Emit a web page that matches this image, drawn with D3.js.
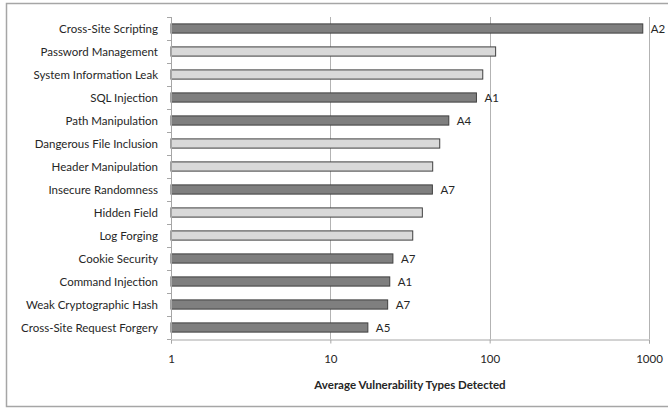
<!DOCTYPE html>
<html>
<head>
<meta charset="utf-8">
<script src="https://cdn.jsdelivr.net/npm/d3@7"></script>
<style>
  html, body { margin: 0; padding: 0; background: #fff; }
  svg { display: block; }
  text { font-family: Lato, "Open Sans", sans-serif; fill: #262626; }
</style>
</head>
<body>
<svg id="chart" width="668" height="408"></svg>
<script>
// Vulnerability types, top to bottom
const categories = [
  "Cross-Site Scripting", "Password Management", "System Information Leak",
  "SQL Injection", "Path Manipulation", "Dangerous File Inclusion",
  "Header Manipulation", "Insecure Randomness", "Hidden Field",
  "Log Forging", "Cookie Security", "Command Injection",
  "Weak Cryptographic Hash", "Cross-Site Request  Forgery"
];
// Average number detected per type
const values = [914, 109, 90.5, 82.6, 55.4, 48.6, 43.9, 43.7, 37.8, 32.9, 24.7, 23.6, 22.9, 17.2];
// OWASP category tag (empty = not in the OWASP list)
const owasp = ["A2", "", "", "A1", "A4", "", "", "A7", "", "", "A7", "A1", "A7", "A5"];
const xTicks = [1, 10, 100, 1000];
const xTitle = "Average Vulnerability Types Detected";

const svg = d3.select("#chart");
const plot = { left: 171, right: 649, top: 17, bottom: 339 };

// outer frame
svg.append("rect")
  .attr("x", 6.5).attr("y", 3.5).attr("width", 680).attr("height", 403)
  .attr("fill", "none").attr("stroke", "#a6a6a6").attr("stroke-width", 1.5);

const x = d3.scaleLog().domain([1, 1000]).range([plot.left, plot.right]);
const y = d3.scaleBand().domain(categories).range([plot.top, plot.bottom]).paddingInner(0.6).paddingOuter(0.3);
const yEdges = d3.range(categories.length + 1).map(i => plot.top + i * (plot.bottom - plot.top) / categories.length);

// vertical gridlines
svg.append("g").selectAll("line").data(xTicks.slice(1)).join("line")
  .attr("x1", d => Math.round(x(d)) + 0.5).attr("x2", d => Math.round(x(d)) + 0.5)
  .attr("y1", plot.top).attr("y2", plot.bottom)
  .attr("stroke", "#b3b3b3").attr("stroke-width", 1);

// bars
svg.append("g").selectAll("rect").data(categories).join("rect")
  .attr("x", plot.left)
  .attr("y", d => y(d))
  .attr("width", (d, i) => x(values[i]) - plot.left)
  .attr("height", y.bandwidth())
  .attr("fill", (d, i) => owasp[i] ? "#7f7f7f" : "#d9d9d9")
  .attr("stroke", "#404040").attr("stroke-width", 1);

// OWASP tags at bar ends
svg.append("g").selectAll("text").data(categories.filter((d, i) => owasp[i])).join("text")
  .attr("x", d => x(values[categories.indexOf(d)]) + 8)
  .attr("y", d => y(d) + y.bandwidth() / 2)
  .attr("dy", "0.35em")
  .attr("font-size", 11.5)
  .text(d => owasp[categories.indexOf(d)]);

// left axis
const gy = svg.append("g");
gy.append("line").attr("x1", plot.left + 0.5).attr("x2", plot.left + 0.5)
  .attr("y1", plot.top).attr("y2", plot.bottom).attr("stroke", "#a6a6a6");
gy.selectAll("line.tk").data(yEdges).join("line").attr("class", "tk")
  .attr("x1", plot.left - 4).attr("x2", plot.left)
  .attr("y1", d => Math.round(d) + 0.5).attr("y2", d => Math.round(d) + 0.5)
  .attr("stroke", "#a6a6a6");
gy.selectAll("text").data(categories).join("text")
  .attr("x", plot.left - 13)
  .attr("y", d => y(d) + y.bandwidth() / 2)
  .attr("dy", "0.35em")
  .attr("text-anchor", "end")
  .attr("font-size", 11.5)
  .text(d => d);

// bottom axis
const xAxis = d3.axisBottom(x).tickValues(xTicks).tickFormat(d3.format("d")).tickSize(4).tickPadding(11);
const gx = svg.append("g").attr("transform", `translate(0,${plot.bottom + 0.5})`).call(xAxis);
gx.select(".domain").attr("stroke", "#a6a6a6");
gx.selectAll(".tick line").attr("stroke", "#a6a6a6");
gx.selectAll(".tick text").attr("font-size", 11.5).attr("font-family", "Lato, 'Open Sans', sans-serif").attr("fill", "#262626");

svg.append("text")
  .attr("x", (plot.left + plot.right) / 2)
  .attr("y", 389)
  .attr("text-anchor", "middle")
  .attr("font-size", 11.5)
  .attr("font-weight", "bold")
  .text(xTitle);
</script>
</body>
</html>
